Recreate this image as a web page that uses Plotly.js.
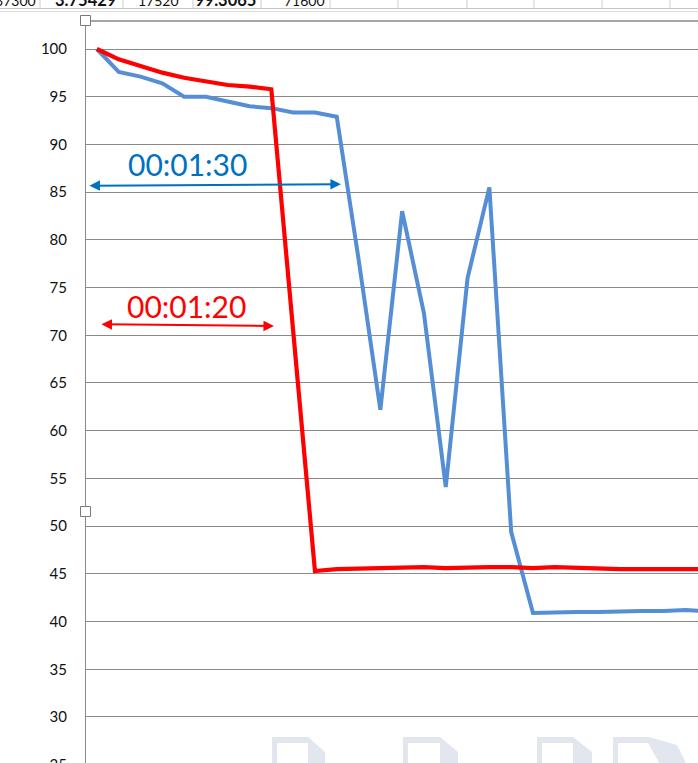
<!DOCTYPE html>
<html>
<head>
<meta charset="utf-8">
<script src="https://cdn.plot.ly/plotly-3.0.1.min.js"></script>
<style>
html,body{margin:0;padding:0;background:#fff;overflow:hidden;}
#chart{width:720px;height:820px;}
</style>
</head>
<body>
<div id="chart"></div>
<script>
// ---- data ----
const steps = [0,1,2,3,4,5,6,7,8,9,10,11,12,13,14,15,16,17,18,19,20,21,22,23,24,25,26,27,28];
const blueSeries = [100, 97.6, 97.1, 96.4, 95.0, 95.0, 94.5, 94.0, 93.8, 93.35, 93.35, 92.9, 78.0, 62.2, 83.0, 72.3, 54.1, 76.0, 85.5, 49.4, 40.9, 41.0, 41.0, 41.0, 41.1, 41.1, 41.1, 41.2, 41.1];
const redSeries = [100, 98.92, 98.22, 97.52, 96.99, 96.57, 96.23, 96.05, 95.78, 70.5, 45.3, 45.5, 45.55, 45.55, 45.65, 45.7, 45.6, 45.7, 45.7, 45.7, 45.6, 45.7, 45.6, 45.5, 45.5, 45.5, 45.5, 45.5, 45.5];
const yTicks = [25,30,35,40,45,50,55,60,65,70,75,80,85,90,95,100];
const blueLabel = "00:01:30";
const redLabel = "00:01:20";
const cellTexts = ["237300","3.75429","17520","99.3065","71600"];
const cellBold = [false,true,false,true,false];

// ---- geometry helpers (decoration placement) ----
const L = 86, W = 634, T = 21, H = 779;
const px = v => (v - L) / W;
const py = v => (T + H - v) / H;
function poly(pts){
  return 'M' + pts.map(p => px(p[0]).toFixed(5) + ',' + py(p[1]).toFixed(5)).join('L') + 'Z';
}

const shapes = [];
// spreadsheet strip lines
shapes.push({type:'line', xref:'paper', yref:'paper', x0:px(0), x1:px(720), y0:py(8.5), y1:py(8.5), line:{color:'#c4c4c4', width:1}});
shapes.push({type:'line', xref:'paper', yref:'paper', x0:px(0), x1:px(720), y0:py(11.5), y1:py(11.5), line:{color:'#dcdcdc', width:1}});
[40,123,193,261,330,398,467,534,602,670].forEach(x => {
  shapes.push({type:'line', xref:'paper', yref:'paper', x0:px(x), x1:px(x), y0:py(-2), y1:py(8.5), line:{color:'#cfcfcf', width:1}});
});
// plot area top border
shapes.push({type:'line', xref:'paper', yref:'paper', x0:px(86), x1:px(720), y0:py(21), y1:py(21), line:{color:'#8a8a8a', width:1.3}});
// watermark glyphs
[[272,308,325],[403,440,458],[537,573,592]].forEach(g => {
  const [a,b,c] = g;
  shapes.push({type:'path', xref:'paper', yref:'paper', layer:'below', line:{width:0}, fillcolor:'#e2e6ee',
    path: poly([[a,737],[b,737],[c,752],[c,775],[a,775]])});
  shapes.push({type:'path', xref:'paper', yref:'paper', layer:'below', line:{width:0}, fillcolor:'#ffffff',
    path: poly([[a+5,743],[b,743],[b,775],[a+5,775]])});
});
shapes.push({type:'path', xref:'paper', yref:'paper', layer:'below', line:{width:0}, fillcolor:'#e2e6ee',
  path: poly([[613,737],[649,737],[677,745],[692,775],[613,775]])});
shapes.push({type:'path', xref:'paper', yref:'paper', layer:'below', line:{width:0}, fillcolor:'#ffffff',
  path: poly([[618,743],[648,743],[666,775],[618,775]])});
// selection handles
[[15.5],[506.5]].forEach(h => {
  shapes.push({type:'rect', xref:'paper', yref:'paper', layer:'above', x0:px(80.5), x1:px(90.5), y0:py(h[0]), y1:py(h[0]+10),
    fillcolor:'#ffffff', line:{color:'#7a7a7a', width:1}});
});

const annotations = [];
// spreadsheet cell texts (right aligned)
const cellRight = [38, 118, 181, 258, 327];
cellTexts.forEach((t,i) => {
  annotations.push({xref:'paper', yref:'paper', x:px(cellRight[i]), y:py(cellBold[i] ? 0.5 : 0.5), xanchor:'right', yanchor:'middle',
    text: cellBold[i] ? '<b>'+t+'</b>' : t, showarrow:false,
    font:{family:'Lato', size: cellBold[i] ? 16.5 : 14, color:'#111'}});
});
// arrows
annotations.push({x:11.19, y:85.82, ax:-0.41, ay:85.68, xref:'x', yref:'y', axref:'x', ayref:'y', text:'', showarrow:true,
  arrowside:'end+start', arrowhead:2, startarrowhead:2, arrowsize:1.05, startarrowsize:1.05, arrowwidth:2, arrowcolor:'#0070c0', standoff:0, startstandoff:0});
annotations.push({x:8.12, y:70.97, ax:0.14, ay:71.15, xref:'x', yref:'y', axref:'x', ayref:'y', text:'', showarrow:true,
  arrowside:'end+start', arrowhead:2, startarrowhead:2, arrowsize:1.05, startarrowsize:1.05, arrowwidth:2, arrowcolor:'#ff0000', standoff:0, startstandoff:0});
// labels
annotations.push({x:4.17, y:87.9, xref:'x', yref:'y', text:blueLabel, showarrow:false, font:{family:'Lato', size:30, color:'#0070c0'}});
annotations.push({x:4.13, y:73.05, xref:'x', yref:'y', text:redLabel, showarrow:false, font:{family:'Lato', size:30, color:'#ff0000'}});

const traces = [
  {x: steps, y: blueSeries, type:'scatter', mode:'lines', line:{color:'#558ed5', width:4}, hoverinfo:'skip'},
  {x: steps, y: redSeries, type:'scatter', mode:'lines', line:{color:'#ff0000', width:4.2}, hoverinfo:'skip'}
];

const layout = {
  width: 720, height: 820,
  margin: {l: L, r: 0, t: T, b: 820 - T - H, pad: 0},
  paper_bgcolor: '#ffffff', plot_bgcolor: '#ffffff',
  showlegend: false,
  xaxis: {range: [-0.5, 28.578], showgrid:false, zeroline:false, showline:false, showticklabels:false, ticks:''},
  yaxis: {range: [21.30, 102.934], tickvals: yTicks, ticktext: yTicks.map(String), showgrid:true, gridcolor:'#8a8a8a', gridwidth:1,
    zeroline:false, showline:true, linecolor:'#8a8a8a', linewidth:1, ticks:'', ticklabelstandoff: 15,
    tickfont:{family:'Lato', size:15, color:'#111'}},
  shapes: shapes,
  annotations: annotations
};

Plotly.newPlot('chart', traces, layout, {displayModeBar:false, staticPlot:true});
</script>
</body>
</html>
